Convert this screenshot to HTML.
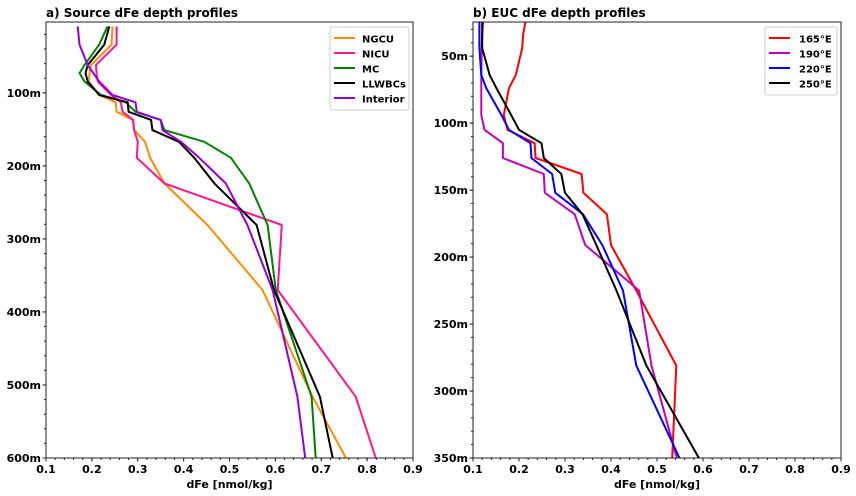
<!DOCTYPE html>
<html><head><meta charset="utf-8">
<style>
html,body{margin:0;padding:0;background:#fff;}
svg{display:block;font-family:"DejaVu Sans","Liberation Sans",sans-serif;font-weight:bold;}
</style></head>
<body>
<svg id="chart" width="856" height="496" viewBox="0 0 856 496" xmlns="http://www.w3.org/2000/svg"></svg>
<script>
// ---- Panel a data ----
const depthsA = [9, 34, 62, 73, 84.5, 103, 113, 126, 137, 151, 167, 189, 224, 281, 370, 516, 600];
const ngcu     = [0.245,0.243,0.198,0.195,0.193,0.216,0.252,0.254,0.289,0.292,0.316,0.327,0.358,0.452,0.572,0.681,0.754];
const nicu     = [0.254,0.254,0.209,0.210,0.213,0.242,0.263,0.267,0.290,0.292,0.300,0.298,0.358,0.614,0.605,0.775,0.819];
const mc       = [0.234,0.216,0.184,0.173,0.184,0.220,0.274,0.295,0.350,0.358,0.445,0.503,0.543,0.583,0.601,0.679,0.688];
const llwbcs   = [0.238,0.227,0.191,0.186,0.191,0.216,0.278,0.280,0.329,0.332,0.390,0.423,0.467,0.559,0.597,0.697,0.725];
const interior = [0.169,0.173,0.191,0.203,0.216,0.245,0.295,0.298,0.350,0.354,0.394,0.434,0.492,0.539,0.594,0.648,0.665];
const seriesNamesA = ["NGCU","NICU","MC","LLWBCs","Interior"];
const seriesColorsA = ["#ff8c00","#ff1493","#008000","#000000","#9400d3"];
// ---- Panel b data ----
const depthsB = [24.4, 34, 44, 64, 74, 94, 105, 115, 126, 138, 152, 168, 191, 225, 281, 350];
const e165 = [0.214,0.209,0.207,0.193,0.178,0.167,0.175,0.234,0.236,0.336,0.340,0.391,0.400,0.455,0.542,0.533];
const e190 = [0.122,0.120,0.119,0.118,0.118,0.118,0.125,0.165,0.165,0.254,0.256,0.321,0.344,0.461,0.488,0.543];
const e220 = [0.114,0.114,0.114,0.118,0.129,0.162,0.178,0.225,0.227,0.272,0.279,0.339,0.381,0.426,0.455,0.549];
const e250 = [0.120,0.120,0.120,0.136,0.151,0.183,0.200,0.249,0.254,0.292,0.300,0.338,0.368,0.412,0.477,0.591];
const seriesNamesB = ["165°E","190°E","220°E","250°E"];
const seriesColorsB = ["#ff0000","#bf00bf","#0000ff","#000000"];
const xTicks = [0.1,0.2,0.3,0.4,0.5,0.6,0.7,0.8,0.9];
const yTicksA = [100,200,300,400,500,600];
const yTicksB = [50,100,150,200,250,300,350];

const NS="http://www.w3.org/2000/svg";
const svg=document.getElementById('chart');
function mk(tag,attrs,parent){const e=document.createElementNS(NS,tag);for(const k in attrs)e.setAttribute(k,attrs[k]);(parent||svg).appendChild(e);return e;}

function panel(cfg){
  const g=mk('g',{});
  
  
  const L=cfg.left,R=cfg.right,T=22,B=458;
  const sx=v=>L+(v-0.1)/(0.8)*(R-L);
  const sy=d=>B-(cfg.ymax-d)/(cfg.ymax-cfg.ymin)*(B-T);
  const cid='clip'+cfg.name;
  const cp=mk('clipPath',{id:cid},g);mk('rect',{x:L,y:T,width:R-L,height:B-T},cp);
  const lg=mk('g',{'clip-path':'url(#'+cid+')'},g);
  cfg.series.forEach((s,i)=>{
    const p=mk('polyline',{points:s.map((v,j)=>sx(v).toFixed(1)+','+sy(cfg.depths[j]).toFixed(1)).join(' '),fill:'none',stroke:cfg.colors[i],'stroke-width':2,'stroke-linejoin':'round'},lg);
    
    
  });
  const fr=mk('rect',{x:L,y:T,width:R-L,height:B-T,fill:'none',stroke:'#222','stroke-width':1},g);
  
  
  for(let v=0.1;v<=0.9001;v+=0.02){const x=sx(v);mk('line',{x1:x,x2:x,y1:B,y2:B+2,stroke:'#222'},g);}
  xTicks.forEach(v=>{const x=sx(v);mk('line',{x1:x,x2:x,y1:B,y2:B+3.5,stroke:'#222'},g);
    const t=mk('text',{x:x,y:B+15,'text-anchor':'middle','font-size':11},g);t.textContent=v.toFixed(1);
    
    });
  for(let d=cfg.minorStart;d<=cfg.ymax+0.01;d+=cfg.minor){if(d<cfg.ymin)continue;const y=sy(d);mk('line',{x1:L,x2:L-2,y1:y,y2:y,stroke:'#222'},g);}
  cfg.yTicks.forEach(d=>{const y=sy(d);mk('line',{x1:L,x2:L-3.5,y1:y,y2:y,stroke:'#222'},g);
    const t=mk('text',{x:L-5,y:y+4,'text-anchor':'end','font-size':11},g);t.textContent=d+'m';
    
    });
  const xl=mk('text',{x:(L+R)/2,y:488,'text-anchor':'middle','font-size':11},g);xl.textContent='dFe [nmol/kg]';
  
  
  const ti=mk('text',{x:L,y:17,'font-size':12},g);ti.textContent=cfg.title;
  
  
  const lw=cfg.legW,n=cfg.names.length,lx=R-lw-4,ly=27;
  const leg=mk('g',{},g);
  
  
  mk('rect',{x:lx,y:ly,width:lw,height:n*15+8,rx:2,fill:'#fff',stroke:'#ccc'},leg);
  cfg.names.forEach((nm,i)=>{const y=ly+12+i*15;
    const e=mk('g',{},leg);
    
    
    mk('line',{x1:lx+4,x2:lx+25,y1:y-1,y2:y-1,stroke:cfg.colors[i],'stroke-width':2},e);
    const t=mk('text',{x:lx+cfg.textOff,y:y+3.5,'font-size':10},e);t.textContent=nm;});
}
panel({name:'panel-a-source',left:46,right:413,ymin:3,ymax:600,depths:depthsA,series:[ngcu,nicu,mc,llwbcs,interior],names:seriesNamesA,colors:seriesColorsA,yTicks:yTicksA,minor:20,minorStart:20,title:'a) Source dFe depth profiles',legW:79,textOff:32});
panel({name:'panel-b-euc',left:473,right:841,ymin:24.5,ymax:350,depths:depthsB,series:[e165,e190,e220,e250],names:seriesNamesB,colors:seriesColorsB,yTicks:yTicksB,minor:10,minorStart:30,title:'b) EUC dFe depth profiles',legW:72,textOff:34});
</script>
</body></html>
